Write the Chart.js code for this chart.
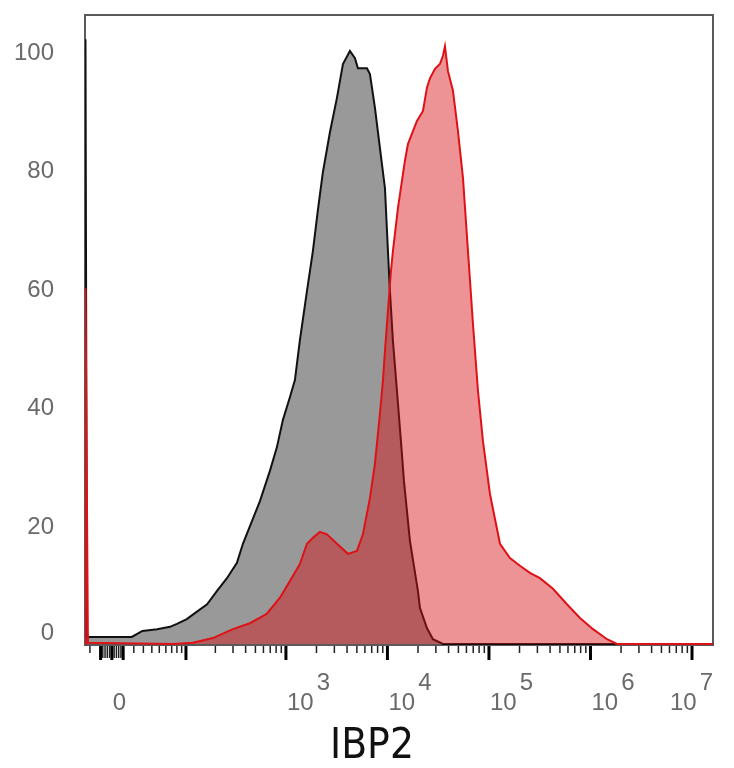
<!DOCTYPE html>
<html>
<head>
<meta charset="utf-8">
<script src="https://cdn.jsdelivr.net/npm/chart.js@4.4.1/dist/chart.umd.min.js"></script>
<style>
  html, body { margin: 0; padding: 0; background: #fff; }
  #caja { width: 734px; height: 768px; position: relative; }
</style>
</head>
<body>
<div id="caja"><canvas id="histograma"></canvas></div>
<script>
var gris_x = [-25, -24.5, -23, 18, 29, 47, 67, 80, 102, 124, 165, 207, 261, 328, 376, 462, 554, 695, 815, 934,
    1094, 1226, 1374, 1611, 1845, 2066, 2315, 2713, 3181, 3644, 4271, 4786, 5120, 6281, 6724, 7533, 8435,
    9450, 10115, 10583, 11330, 12410, 13580, 14540, 16660, 19980, 20900, 24490, 28070, 35230, 16000000];
var gris_y = [0, 102, 1.2, 1.2, 2.2, 2.5, 2.9, 3.4, 4.2, 5.2, 6.7, 8.9, 11.1, 13.7, 16.9, 20.7, 24.1, 29.2, 33.2, 37.8,
    41.6, 44.5, 51.3, 59.5, 66.3, 73.2, 79.6, 86.3, 92.1, 97.8, 100, 98.8, 97.1, 97.1, 96.1, 90.4, 83.6,
    76.9, 66.3, 59.5, 51.1, 42.7, 34.2, 27.5, 17.4, 8.9, 6.1, 2.7, 0.8, 0, 0];

var rojo_x = [-25, -24.5, -22, 72, 118, 189, 299, 441, 648, 873, 1094, 1374, 1611, 1845, 2163, 2535, 3181, 4083,
    5005, 5736, 6724, 7533, 8435, 9030, 9450, 10115, 10830, 11330, 12690, 14870, 15920, 17830, 19540, 22390,
    24490, 26240, 29380, 32890, 35230, 36860, 39470, 44200, 49500, 55460, 62110, 69560, 77930, 87270,
    102300, 128400, 161000, 202000, 253400, 317800, 427100, 586400, 788000, 1060000, 1455000, 1825000, 16000000];
var rojo_y = [0, 60, 0.2, 0, 0.2, 1.0, 2.5, 3.5, 5.1, 7.8, 10.6, 13.5, 16.9, 17.9, 18.9, 18.5, 16.9, 15.2,
    15.7, 18.5, 24.6, 30.4, 38.8, 44.4, 49.4, 56.2, 62.9, 66.3, 73.5, 81.5, 84.3, 86.5, 88.2, 89.9,
    93.8, 95.4, 97, 97.8, 99.2, 100.8, 96.6, 93.3, 86.5, 78.6, 66.3, 54, 42.7, 34.2,
    25.3, 16.9, 14.5, 13.2, 12, 11.1, 9.3, 6.7, 4.4, 2.5, 0.8, 0, 0];

// Marcas de los ejes
var x_marcas_mayores = [-10, 0, 10, 100, 1000, 10000, 100000, 1000000, 10000000];
var x_etiquetas_valor = [0, 1000, 10000, 100000, 1000000, 10000000];
var x_etiquetas_base = ['0', '10', '10', '10', '10', '10'];
var x_etiquetas_exp = ['', '3', '4', '5', '6', '7'];
var y_etiquetas = [0, 20, 40, 60, 80, 100];

// Escala biexponencial (asinh) para el eje x
var ANCHO_LINEAL = 38.6;
function biex(v) { return Math.asinh(v / ANCHO_LINEAL); }

class EscalaBiex extends Chart.LinearScale {
    getPixelForValue(valor) {
        if (valor === null || valor === undefined || isNaN(valor)) return NaN;
        var a = biex(this.min), b = biex(this.max);
        return this.getPixelForDecimal((biex(valor) - a) / (b - a));
    }
    getValueForPixel(pixel) {
        var a = biex(this.min), b = biex(this.max);
        return ANCHO_LINEAL * Math.sinh(a + this.getDecimalForPixel(pixel) * (b - a));
    }
}
EscalaBiex.id = 'biex';
Chart.register(EscalaBiex);

function combinar(xs, ys) {
    return xs.map(function (x, i) { return { x: x, y: ys[i] }; });
}

// Marco, marcas y textos de los ejes
var ejes_plugin = {
    id: 'ejes_citometria',
    beforeDatasetsDraw: function (chart) {
        var ctx = chart.ctx, area = chart.chartArea;
        ctx.save();
        ctx.strokeStyle = '#5a5a5a';
        ctx.lineWidth = 2;
        ctx.strokeRect(area.left, area.top, area.right - area.left, area.bottom - area.top);
        ctx.restore();
    },
    afterDraw: function (chart) {
        var ctx = chart.ctx, area = chart.chartArea;
        var ex = chart.scales.x, ey = chart.scales.y;
        ctx.save();

        // marcas menores
        var menores = [-20];
        for (var k = 2; k <= 8; k += 2) { menores.push(-k); menores.push(k); }
        for (var d = 10; d <= 1000000; d *= 10) {
            for (var m = 2; m <= 9; m++) menores.push(m * d);
        }
        ctx.strokeStyle = '#222';
        ctx.lineWidth = 1.5;
        menores.forEach(function (v) {
            var px = ex.getPixelForValue(v);
            if (px < area.left || px > area.right) return;
            ctx.beginPath();
            ctx.moveTo(px, area.bottom + 1);
            ctx.lineTo(px, area.bottom + (Math.abs(v) < 10 ? 13 : 8));
            ctx.stroke();
        });

        // marcas mayores
        ctx.strokeStyle = '#000';
        ctx.lineWidth = 3;
        x_marcas_mayores.forEach(function (v) {
            var px = ex.getPixelForValue(v);
            ctx.beginPath();
            ctx.moveTo(px, area.bottom + 1);
            ctx.lineTo(px, area.bottom + 15);
            ctx.stroke();
        });

        // etiquetas del eje x
        ctx.fillStyle = '#6a6a6a';
        ctx.font = '24px "Liberation Sans", Arial, sans-serif';
        ctx.textAlign = 'left';
        ctx.textBaseline = 'alphabetic';
        x_etiquetas_valor.forEach(function (v, i) {
            var w = ctx.measureText(x_etiquetas_base[i]).width;
            var we = x_etiquetas_exp[i] ? ctx.measureText(x_etiquetas_exp[i]).width + 3 : 0;
            var px = Math.min(ex.getPixelForValue(v) + 1, area.right - w - we);
            ctx.fillText(x_etiquetas_base[i], px, 710);
            if (x_etiquetas_exp[i]) {
                ctx.fillText(x_etiquetas_exp[i], px + w + 3, 690);
            }
        });

        // etiquetas del eje y
        ctx.textAlign = 'right';
        ctx.textBaseline = 'middle';
        y_etiquetas.forEach(function (v) {
            var py = Math.min(ey.getPixelForValue(v) + 2, area.bottom - 12);
            ctx.fillText(String(v), 54, py);
        });

        // título del eje x
        ctx.fillStyle = '#111';
        ctx.font = '42px "DejaVu Sans Condensed", "DejaVu Sans", sans-serif';
        ctx.textAlign = 'center';
        ctx.textBaseline = 'alphabetic';
        ctx.fillText('IBP2', 372, 758);
        ctx.restore();
    }
};

var contexto = document.getElementById('histograma').getContext('2d');
var grafico = new Chart(contexto, {
    type: 'line',
    data: {
        datasets: [{
            label: 'IBP2',
            data: combinar(rojo_x, rojo_y),
            borderColor: 'rgb(222, 18, 22)',
            backgroundColor: 'rgba(215, 15, 20, 0.45)',
            borderWidth: 2,
            fill: 'origin',
            pointRadius: 0,
            tension: 0
        }, {
            label: 'Control',
            data: combinar(gris_x, gris_y),
            borderColor: '#111',
            backgroundColor: 'rgb(153, 153, 153)',
            borderWidth: 2,
            fill: 'origin',
            pointRadius: 0,
            tension: 0
        }]
    },
    options: {
        responsive: true,
        maintainAspectRatio: false,
        animation: false,
        layout: { padding: { left: 85, right: 21, top: 15, bottom: 123 } },
        plugins: { legend: { display: false }, tooltip: { enabled: false } },
        scales: {
            x: { type: 'biex', min: -25, max: 16100000, display: false },
            y: { type: 'linear', min: -0.17, max: 106.07, display: false }
        }
    },
    plugins: [ejes_plugin]
});
</script>
</body>
</html>
